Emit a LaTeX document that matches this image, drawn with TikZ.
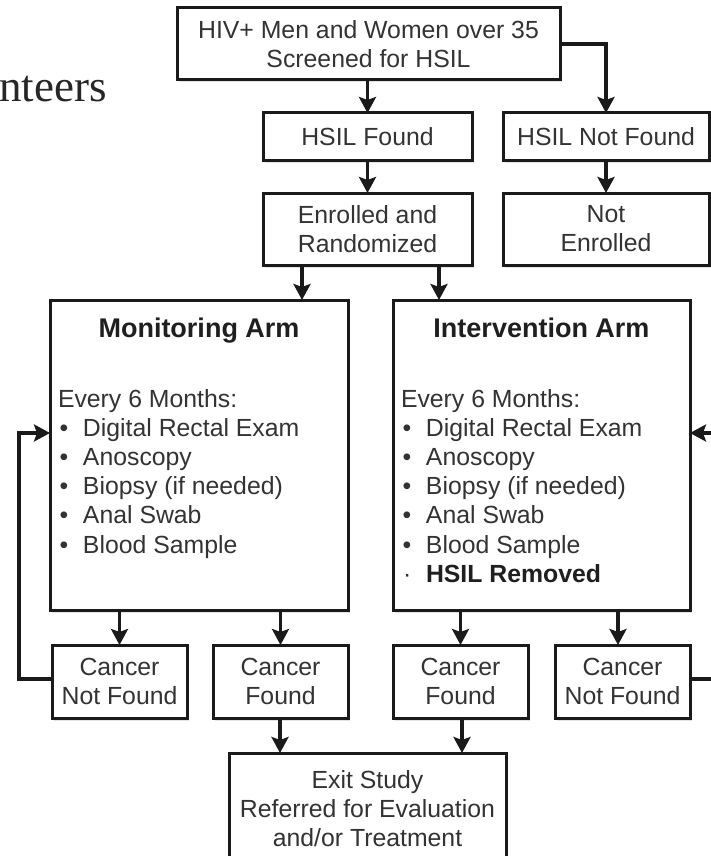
\documentclass[tikz,border=0pt]{standalone}
\usepackage{fontspec}
\setmainfont{Liberation Sans}
\newfontfamily\serifface{Liberation Serif}
\usetikzlibrary{arrows.meta,shadows}
\definecolor{ink}{HTML}{1A1A1A}
\definecolor{txt}{HTML}{333333}
\newcommand{\itm}[1]{\makebox[25pt][l]{\hspace{1.5pt}•}#1}
\tikzset{
  box/.style={draw=ink, line width=3pt, fill=white, inner sep=0pt, outer sep=0pt,
    align=center, font=\fontsize{24.8}{29}\selectfont, text=txt,
    drop shadow={shadow xshift=2pt, shadow yshift=-2.5pt, opacity=0.22}},
  arr/.style={draw=ink, line width=3.2pt, -{Stealth[length=16pt,width=17pt,inset=3pt]}},
  lbl/.style={inner sep=0pt, outer sep=0pt, font=\fontsize{24.8}{29}\selectfont, text=txt, anchor=base west},
  ttl/.style={inner sep=0pt, outer sep=0pt, font=\bfseries\fontsize{27}{30}\selectfont, text=black!88, anchor=base}
}
\begin{document}
\begin{tikzpicture}[x=1pt,y=-1pt]
\useasboundingbox (0,0) rectangle (711,856);
\fill[white] (0,0) rectangle (711,856);
\begin{scope}
\clip (0,0) rectangle (711,856);
\node[inner sep=0pt, anchor=base west, font=\serifface\fontsize{45}{50}\selectfont, text=black!85] (vol) at (-1,102) {nteers};

\node[box, minimum width=383pt, minimum height=72pt] (top) at (368.5,44) {HIV+ Men and Women over 35\\Screened for HSIL};
\node[box, minimum width=209pt, minimum height=47pt] (hf) at (367.5,136.5) {HSIL Found};
\node[box, minimum width=206pt, minimum height=47pt] (hnf) at (606,136.5) {HSIL Not Found};
\node[box, minimum width=209pt, minimum height=72pt] (enr) at (367.5,229) {Enrolled and\\Randomized};
\node[box, minimum width=206pt, minimum height=72pt] (nenr) at (606,229) {Not\\Enrolled};

\node[box, minimum width=298pt, minimum height=310pt] (mon) at (199,455) {};
\node[box, minimum width=297pt, minimum height=310pt] (int) at (541.5,455) {};
\node[ttl] (montitle) at (199,337) {Monitoring Arm};
\node[ttl] (inttitle) at (541.5,337) {Intervention Arm};

\foreach [count=\i] \t in {Every 6 Months:,\itm{Digital Rectal Exam},\itm{Anoscopy},\itm{Biopsy (if needed)},\itm{Anal Swab},\itm{Blood Sample}}{
  \node[lbl] (monl\i) at (58,{407+(\i-1)*29.2}) {\t};
  \node[lbl] (intl\i) at (401,{407+(\i-1)*29.2}) {\t};
}
\node[lbl] (intl7) at (401,{407+6*29.2}) {\makebox[25pt][l]{\hspace{2pt}·}\textbf{\color{black!88}HSIL Removed}};

\node[box, minimum width=135pt, minimum height=73pt] (cnf1) at (119.5,681.5) {Cancer\\Not Found};
\node[box, minimum width=135pt, minimum height=73pt] (cf1) at (280.5,681.5) {Cancer\\Found};
\node[box, minimum width=135pt, minimum height=73pt] (cf2) at (460.5,681.5) {Cancer\\Found};
\node[box, minimum width=135pt, minimum height=73pt] (cnf2) at (622.5,681.5) {Cancer\\Not Found};
\node[box, minimum width=277pt, minimum height=111pt] (exit) at (367.5,808.5) {Exit Study\\Referred for Evaluation\\and/or Treatment};

\draw[arr] (hf.north |- top.south) -- (hf.north);
\draw[arr] (top.east) -| (hnf.north);
\draw[arr] (hf.south) -- (enr.north);
\draw[arr] (hnf.south) -- (nenr.north);
\draw[arr] ([xshift=-65.5pt]enr.south) -- ([xshift=-65.5pt]enr.south |- mon.north);
\draw[arr] ([xshift=71.5pt]enr.south) -- ([xshift=71.5pt]enr.south |- int.north);
\draw[arr] (cnf1.north |- mon.south) -- (cnf1.north);
\draw[arr] (cf1.north |- mon.south) -- (cf1.north);
\draw[arr] (cf2.north |- int.south) -- (cf2.north);
\draw[arr] ([xshift=-4.5pt]cnf2.north |- int.south) -- ([xshift=-4.5pt]cnf2.north);
\draw[arr] ([xshift=-0.5pt]cf1.south) -- ([xshift=-0.5pt]cf1.south |- exit.north);
\draw[arr] ([xshift=1.5pt]cf2.south) -- ([xshift=1.5pt]cf2.south |- exit.north);
\draw[arr] ([yshift=2.5pt]cnf1.west) -- ++(-33,0) |- ([yshift=22pt]mon.west);
\draw[arr] ([yshift=2.5pt]cnf2.east) -- ++(40,0) |- ([yshift=22pt]int.east);
\end{scope}
\end{tikzpicture}
\end{document}
